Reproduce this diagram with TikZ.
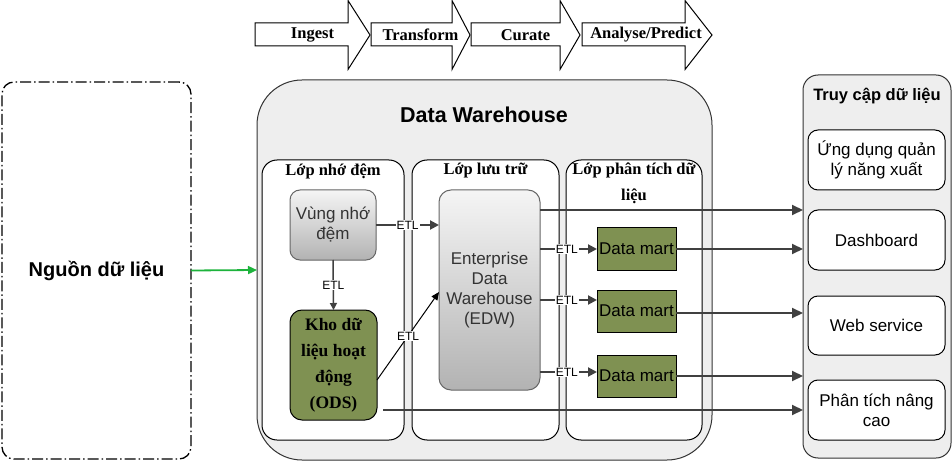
\documentclass[tikz,border=0pt]{standalone}
\usepackage{fontspec}
\setmainfont{Liberation Serif}
\setsansfont{Liberation Sans}
\usetikzlibrary{arrows.meta,calc}
\definecolor{dmolive}{HTML}{7F9152}
\definecolor{contfill}{HTML}{EEEEEE}
\definecolor{arrgray}{HTML}{404040}
\definecolor{srcgreen}{HTML}{1DB33C}
\tikzset{
  box/.style={anchor=north west, inner sep=0pt, outer sep=0pt},
  chev/.style={draw=black, fill=white, line width=1pt, line join=miter},
  chevtext/.style={font=\bfseries\fontsize{16.5}{19}\selectfont},
  bigcont/.style={box, draw=black!80, fill=contfill, line width=1pt},
  layer/.style={box, draw=black, fill=white, line width=1pt, rounded corners=15pt},
  layertitle/.style={font=\bfseries\fontsize{16.5}{26}\selectfont, align=center},
  gradbox/.style={box, draw=black!60, line width=1pt, top color=white!96!black, bottom color=white!70!black,
    text=black!80, font=\sffamily\fontsize{17}{20}\selectfont, align=center},
  odsbox/.style={box, draw=black, fill=dmolive, line width=1pt, rounded corners=12pt,
    font=\bfseries\fontsize{17.5}{26}\selectfont, align=center},
  dmbox/.style={box, draw=black, fill=dmolive, line width=1pt,
    font=\sffamily\fontsize{17}{20}\selectfont},
  accbox/.style={box, draw=black, fill=white, line width=1pt, rounded corners=10pt,
    font=\sffamily\fontsize{17}{20}\selectfont, align=center},
  arr/.style={draw=arrgray, line width=2pt, -{Triangle[length=11pt,width=10pt]}},
  etlarr/.style={draw=arrgray, line width=2pt, -{Triangle[length=9pt,width=9pt]}},
  thinarr/.style={draw=arrgray, line width=1.5pt, -{Triangle[length=7pt,width=7pt]}},
  hairarr/.style={draw=black, line width=1pt, -{Triangle[length=8pt,width=7pt]}},
  etl/.style={fill=white, inner sep=1pt, font=\sffamily\fontsize{12}{14}\selectfont, text=black}
}
\begin{document}
\begin{tikzpicture}[x=1pt,y=-1pt]
\useasboundingbox (0,0) rectangle (952,462);

% process chevrons
\draw[chev] (255,23) -- (348,23) -- (348,0.5) -- (370,35) -- (348,69.5) -- (348,46) -- (255,46) -- cycle;
\node[chevtext] (ingest) at (312.5,35) {Ingest};
\draw[chev] (371,23) -- (452,23) -- (452,0.5) -- (470,35) -- (452,69.5) -- (452,46) -- (371,46) -- cycle;
\node[chevtext] (transform) at (420.5,35) {Transform};
\draw[chev] (471,23) -- (560,23) -- (560,0.5) -- (580,35) -- (560,69.5) -- (560,46) -- (471,46) -- cycle;
\node[chevtext] (curate) at (525.5,35) {Curate};
\draw[chev] (582,23) -- (685,23) -- (685,0.5) -- (712,35) -- (685,69.5) -- (685,46) -- (582,46) -- cycle;
\node[chevtext] (analyse) at (646,35) {Analyse/Predict};

% source
\node[box, draw=black, line width=1.3pt, rounded corners=12pt,
  dash pattern=on 11pt off 3pt on 1.5pt off 3pt,
  minimum width=189pt, minimum height=377pt,
  font=\sffamily\bfseries\fontsize{20}{23}\selectfont] (src) at (2,82) {Nguồn dữ liệu};

% data warehouse container
\node[bigcont, rounded corners=45pt, minimum width=455pt, minimum height=380pt] (dw) at (257,80) {};
\node[font=\sffamily\bfseries\fontsize{21.5}{25}\selectfont] (dwtitle) at (484,115) {Data Warehouse};

% layers
\node[layer, minimum width=142pt, minimum height=280pt] (l1) at (262,160) {};
\node[layer, minimum width=147pt, minimum height=280pt] (l2) at (412,160) {};
\node[layer, minimum width=136pt, minimum height=280pt] (l3) at (566,160) {};
\node[layertitle] (l1t) at (333,171) {Lớp nhớ đệm};
\node[layertitle] (l2t) at (485.5,171) {Lớp lưu trữ};
\node[layertitle] (l3t) at (634,183) {Lớp phân tích dữ\\liệu};

% inner boxes
\node[gradbox, rounded corners=10pt, minimum width=86pt, minimum height=70pt] (stage) at (290,190) {Vùng nhớ\\đệm};
\node[odsbox, minimum width=87pt, minimum height=110pt] (ods) at (290,310) {Kho dữ\\liệu hoạt\\động\\(ODS)};
\node[gradbox, rounded corners=12pt, minimum width=101pt, minimum height=200pt] (edw) at (439,190) {Enterprise\\Data\\Warehouse\\(EDW)};
\node[dmbox, minimum width=79pt, minimum height=42pt] (dm1) at (597,228) {Data mart};
\node[dmbox, minimum width=79pt, minimum height=42pt] (dm2) at (597,290) {Data mart};
\node[dmbox, minimum width=79pt, minimum height=42pt] (dm3) at (597,355) {Data mart};

% access container
\node[bigcont, rounded corners=15pt, minimum width=148pt, minimum height=383pt] (acc) at (803,75) {};
\node[font=\sffamily\bfseries\fontsize{16.5}{19}\selectfont] (acct) at (877,96) {Truy cập dữ liệu};
\node[accbox, minimum width=137pt, minimum height=60pt] (app) at (808,130) {Ứng dụng quản\\lý năng xuất};
\node[accbox, minimum width=137pt, minimum height=60pt] (dash) at (808,210) {Dashboard};
\node[accbox, minimum width=137pt, minimum height=59pt] (web) at (808,296) {Web service};
\node[accbox, minimum width=137pt, minimum height=60pt] (adv) at (808,380) {Phân tích nâng\\cao};

% connectors
\draw[draw=srcgreen, line width=1.8pt, -{Triangle[length=9pt,width=8pt]}] (src.east) -- (dw.west);

\draw[etlarr] (stage.east) -- node[etl] {ETL} (edw.west |- stage.east);
\draw[thinarr] (stage.south) -- node[etl] {ETL} (ods.north);
\coordinate (odsup) at (377,380);
\coordinate (edwin) at (439,292);
\draw[hairarr] (odsup) -- node[etl] {ETL} (edwin);

\coordinate (e2) at (540,300);
\coordinate (e3) at (540,372);
\draw[etlarr] (edw.east |- dm1.west) -- node[etl, pos=0.47] {ETL} (dm1.west);
\draw[etlarr] (e2) -- node[etl, pos=0.47] {ETL} (dm2.west |- e2);
\draw[etlarr] (e3) -- node[etl, pos=0.47] {ETL} (dm3.west |- e3);

\draw[arr] (edw.east |- dash.north) -- (acc.west |- dash.north);
\draw[arr] (dm1.east) -- (acc.west |- dm1.east);
\coordinate (d2o) at (676,313);
\draw[arr] (d2o) -- (acc.west |- d2o);
\draw[arr] (dm3.east) -- (acc.west |- dm3.east);
\coordinate (odsout) at (383,410);
\draw[arr] (odsout) -- (acc.west |- odsout);
\end{tikzpicture}
\end{document}
